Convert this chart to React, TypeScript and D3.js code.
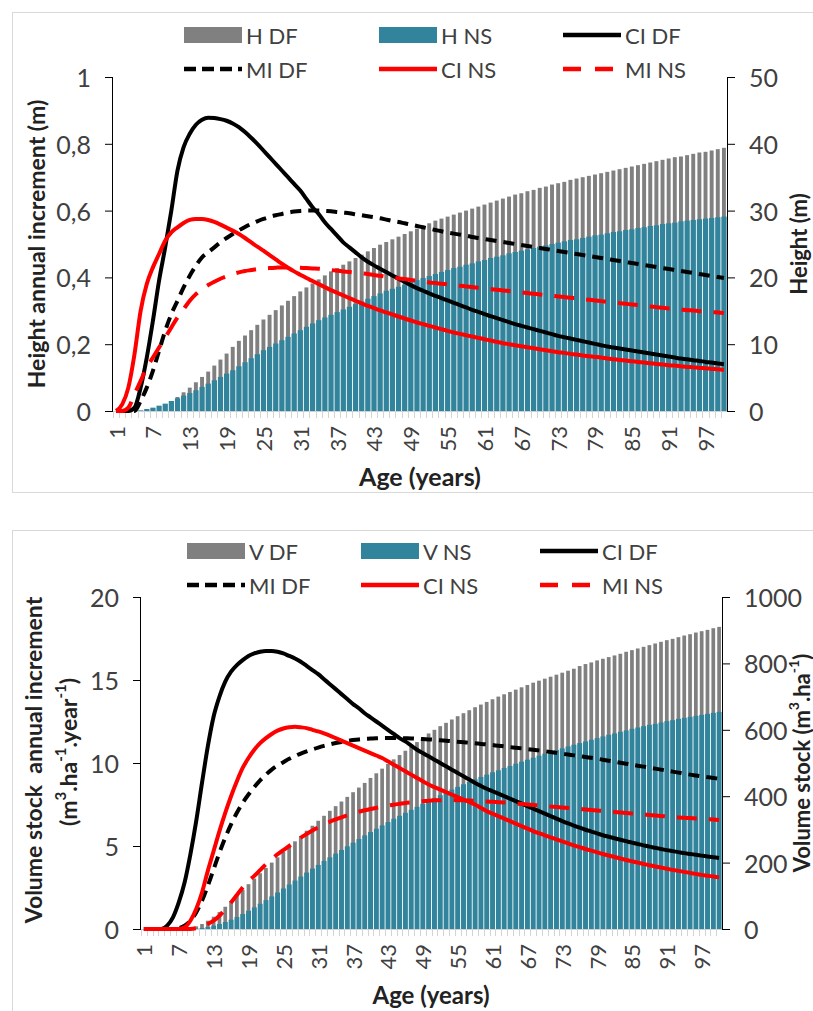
import React from "react";
import * as d3 from "d3";

// ages 1..100 (categories)
const ages: number[] = Array.from({ length: 100 }, (_, i) => i + 1);
const tickAges = [1, 7, 13, 19, 25, 31, 37, 43, 49, 55, 61, 67, 73, 79, 85, 91, 97];

// ---- top chart: height ----
const hDF = [0,0,0,0,0,0.1,0.3,0.6,1.0,1.5,
  2.1,2.8,3.5,4.3,5.1,5.9,6.8,7.7,8.6,9.6,
  10.5,11.3,12.1,12.9,13.7,14.4,15.1,15.8,16.5,17.2,
  17.9,18.5,19.1,19.7,20.3,20.9,21.4,21.9,22.4,22.9,
  23.4,23.9,24.4,24.9,25.3,25.7,26.1,26.5,26.9,27.3,
  27.7,28.1,28.5,28.8,29.1,29.4,29.7,30.0,30.3,30.6,
  30.9,31.2,31.5,31.8,32.1,32.4,32.6,32.9,33.1,33.4,
  33.6,33.9,34.1,34.3,34.6,34.8,35.0,35.2,35.4,35.6,
  35.8,36.0,36.2,36.4,36.6,36.8,37.0,37.2,37.4,37.6,
  37.8,38.0,38.1,38.3,38.5,38.7,38.8,39.0,39.2,39.4];
const hNS = [0,0,0,0,0.1,0.3,0.5,0.8,1.1,1.5,
  1.9,2.3,2.7,3.1,3.6,4.1,4.6,5.1,5.6,6.1,
  6.7,7.3,7.9,8.5,9.1,9.6,10.1,10.6,11.1,11.6,
  12.1,12.6,13.1,13.6,14.0,14.4,14.8,15.2,15.6,16.0,
  16.4,16.8,17.2,17.6,18.0,18.3,18.6,18.9,19.3,19.6,
  19.9,20.2,20.5,20.8,21.1,21.4,21.6,21.9,22.1,22.4,
  22.6,22.9,23.1,23.3,23.6,23.8,24.0,24.2,24.4,24.6,
  24.8,25.0,25.2,25.4,25.6,25.7,25.9,26.1,26.3,26.4,
  26.6,26.8,26.9,27.1,27.2,27.4,27.5,27.7,27.8,28.0,
  28.1,28.2,28.4,28.5,28.6,28.7,28.8,28.9,29.0,29.1];
const hCiDF = [0,0,0,0.01,0.07,0.16,0.27,0.39,0.49,0.6,
  0.72,0.79,0.83,0.857,0.872,0.878,0.877,0.874,0.869,0.861,
  0.85,0.835,0.818,0.8,0.78,0.76,0.74,0.72,0.7,0.68,
  0.66,0.635,0.61,0.59,0.565,0.545,0.525,0.505,0.49,0.475,
  0.46,0.447,0.436,0.426,0.416,0.406,0.396,0.386,0.377,0.368,
  0.36,0.352,0.345,0.338,0.331,0.324,0.317,0.31,0.303,0.297,
  0.29,0.284,0.278,0.272,0.266,0.26,0.255,0.25,0.245,0.24,
  0.235,0.23,0.225,0.221,0.217,0.213,0.209,0.205,0.201,0.197,
  0.193,0.19,0.187,0.184,0.181,0.178,0.175,0.172,0.169,0.166,
  0.163,0.16,0.157,0.155,0.152,0.15,0.147,0.145,0.142,0.14];
const hMiDF = [0,0,0,0,0.03,0.07,0.12,0.18,0.24,0.29,
  0.33,0.37,0.405,0.435,0.46,0.475,0.49,0.505,0.518,0.53,
  0.541,0.551,0.56,0.568,0.575,0.581,0.586,0.59,0.594,0.597,
  0.599,0.6,0.6,0.6,0.599,0.598,0.596,0.594,0.592,0.589,
  0.586,0.583,0.58,0.577,0.573,0.569,0.566,0.562,0.558,0.554,
  0.55,0.546,0.542,0.538,0.534,0.531,0.528,0.525,0.521,0.518,
  0.515,0.512,0.509,0.506,0.503,0.5,0.497,0.494,0.491,0.488,
  0.485,0.482,0.479,0.476,0.473,0.47,0.467,0.464,0.461,0.458,
  0.455,0.452,0.449,0.446,0.443,0.44,0.437,0.434,0.431,0.428,
  0.425,0.422,0.419,0.416,0.413,0.41,0.407,0.404,0.401,0.398];
const hCiNS = [0,0.02,0.07,0.17,0.3,0.38,0.43,0.47,0.51,0.535,
  0.55,0.563,0.572,0.575,0.575,0.572,0.566,0.558,0.549,0.54,
  0.53,0.518,0.505,0.492,0.48,0.467,0.454,0.441,0.429,0.418,
  0.408,0.398,0.389,0.38,0.371,0.362,0.354,0.346,0.338,0.33,
  0.322,0.315,0.308,0.301,0.295,0.289,0.283,0.277,0.271,0.265,
  0.26,0.255,0.25,0.245,0.24,0.235,0.231,0.227,0.223,0.219,
  0.215,0.211,0.207,0.203,0.2,0.197,0.194,0.191,0.188,0.185,
  0.182,0.179,0.176,0.174,0.171,0.169,0.166,0.164,0.162,0.16,
  0.157,0.155,0.153,0.151,0.149,0.147,0.145,0.143,0.141,0.139,
  0.137,0.136,0.134,0.132,0.131,0.129,0.128,0.126,0.125,0.123];
const hMiNS = [0,0,0.01,0.05,0.09,0.13,0.16,0.19,0.22,0.25,
  0.28,0.305,0.33,0.35,0.365,0.377,0.387,0.396,0.403,0.41,
  0.415,0.419,0.422,0.425,0.427,0.428,0.429,0.43,0.43,0.43,
  0.429,0.428,0.427,0.426,0.424,0.422,0.42,0.418,0.416,0.414,
  0.412,0.41,0.407,0.405,0.402,0.4,0.397,0.395,0.392,0.39,
  0.388,0.385,0.383,0.381,0.379,0.377,0.375,0.373,0.371,0.369,
  0.367,0.365,0.363,0.361,0.359,0.357,0.355,0.353,0.351,0.349,
  0.347,0.345,0.343,0.341,0.339,0.337,0.335,0.333,0.331,0.329,
  0.327,0.325,0.323,0.321,0.319,0.317,0.315,0.313,0.311,0.309,
  0.307,0.306,0.304,0.302,0.301,0.299,0.298,0.296,0.295,0.293];

// ---- bottom chart: volume ----
const vDF = [0,0,0,0,0,0,0,0,3,8,
  15,25,37,51,67,84,101,118,135,152,
  168,184,200,216,232,248,264,280,296,311,
  326,341,356,370,384,398,412,426,440,455,
  469,483,497,511,524,537,550,563,576,589,
  600,611,621,631,641,650,659,668,676,684,
  692,700,707,714,721,728,735,742,748,754,
  760,766,772,778,784,792,798,803,809,814,
  819,824,829,835,840,845,850,855,860,865,
  870,874,879,884,888,893,897,901,906,910];
const vNS = [0,0,0,0,0,0,0,0,0,1,
  3,6,10,15,21,28,36,45,55,65,
  76,87,98,110,122,134,146,158,170,182,
  193,205,216,227,238,249,260,271,282,292,
  302,312,322,332,341,350,359,368,377,385,
  394,403,412,420,428,436,443,451,458,465,
  472,478,485,491,498,504,510,516,522,528,
  533,539,544,550,555,560,565,570,575,580,
  585,589,594,598,603,607,611,615,618,622,
  626,629,633,636,639,642,645,648,651,654];
const vCiDF = [0,0,0,0,0.2,0.7,1.6,2.8,4.5,6.5,
  8.8,11.0,12.8,14.0,14.9,15.5,15.9,16.2,16.45,16.6,
  16.7,16.75,16.75,16.7,16.6,16.45,16.3,16.1,15.85,15.6,
  15.35,15.05,14.75,14.45,14.15,13.85,13.55,13.3,13.0,12.75,
  12.5,12.25,12.0,11.75,11.5,11.3,11.05,10.8,10.6,10.4,
  10.2,10.0,9.8,9.6,9.4,9.2,9.0,8.8,8.62,8.45,
  8.3,8.15,8.0,7.85,7.7,7.55,7.4,7.25,7.1,6.95,
  6.8,6.65,6.5,6.36,6.23,6.1,5.98,5.87,5.76,5.65,
  5.56,5.47,5.38,5.29,5.2,5.12,5.04,4.96,4.89,4.82,
  4.75,4.69,4.63,4.57,4.52,4.47,4.42,4.37,4.32,4.28];
const vMiDF = [0,0,0,0,0,0,0.05,0.2,0.5,1.0,
  1.7,2.6,3.6,4.6,5.5,6.3,7.0,7.6,8.1,8.55,
  8.95,9.3,9.6,9.85,10.05,10.25,10.42,10.57,10.7,10.82,
  10.93,11.03,11.12,11.2,11.27,11.33,11.38,11.42,11.45,11.47,
  11.49,11.5,11.5,11.5,11.5,11.49,11.48,11.46,11.44,11.42,
  11.4,11.37,11.34,11.31,11.28,11.25,11.22,11.19,11.15,11.12,
  11.08,11.04,11.0,10.96,10.92,10.88,10.84,10.8,10.76,10.71,
  10.66,10.61,10.56,10.51,10.46,10.41,10.36,10.31,10.26,10.2,
  10.14,10.08,10.02,9.96,9.9,9.84,9.78,9.72,9.66,9.6,
  9.54,9.48,9.42,9.36,9.3,9.25,9.2,9.15,9.1,9.05];
const vCiNS = [0,0,0,0,0,0,0,0.1,0.5,1.2,
  2.2,3.5,4.7,5.9,7.0,8.0,8.9,9.7,10.3,10.8,
  11.2,11.5,11.75,11.95,12.08,12.15,12.18,12.15,12.1,12.0,
  11.9,11.78,11.65,11.5,11.35,11.2,11.05,10.9,10.75,10.6,
  10.45,10.3,10.1,9.9,9.7,9.5,9.3,9.1,8.9,8.7,
  8.55,8.4,8.25,8.1,7.95,7.8,7.65,7.5,7.3,7.1,
  6.95,6.8,6.65,6.5,6.35,6.2,6.05,5.9,5.77,5.64,
  5.52,5.4,5.28,5.16,5.04,4.93,4.82,4.72,4.62,4.52,
  4.43,4.34,4.25,4.16,4.08,4.0,3.92,3.84,3.77,3.7,
  3.63,3.56,3.5,3.44,3.38,3.32,3.26,3.21,3.16,3.11];
const vMiNS = [0,0,0,0,0,0,0,0,0,0.05,
  0.15,0.3,0.5,0.8,1.2,1.6,2.05,2.5,2.9,3.2,
  3.55,3.9,4.2,4.5,4.75,5.0,5.25,5.5,5.72,5.93,
  6.12,6.3,6.46,6.6,6.73,6.85,6.96,7.06,7.15,7.23,
  7.3,7.37,7.43,7.49,7.54,7.59,7.63,7.67,7.7,7.73,
  7.75,7.76,7.77,7.77,7.76,7.75,7.74,7.72,7.7,7.68,
  7.66,7.64,7.62,7.59,7.56,7.53,7.5,7.47,7.44,7.41,
  7.38,7.35,7.32,7.29,7.26,7.23,7.2,7.17,7.14,7.11,
  7.08,7.05,7.02,6.99,6.96,6.93,6.9,6.87,6.84,6.81,
  6.78,6.75,6.72,6.7,6.68,6.66,6.64,6.62,6.6,6.56];

const hLeftTicks = [0, 0.2, 0.4, 0.6, 0.8, 1];
const hRightTicks = [0, 10, 20, 30, 40, 50];
const vLeftTicks = [0, 5, 10, 15, 20];
const vRightTicks = [0, 200, 400, 600, 800, 1000];

const GREY = "#808080";
const TEAL = "#31849b";
const RED = "#ff0000";
const FONT = "Lato, 'Open Sans', sans-serif";
const TXT = "#404040";

function Panel(props: any) {
  const { x0, x1, yT, yB, leftMax, rightMax, leftTicks, rightTicks, leftFmt, bars, lines, legend, legendX, legendY } = props;
  const x = d3.scaleBand<number>().domain(ages).range([x0, x1]);
  const bw = x.bandwidth();
  const yL = d3.scaleLinear().domain([0, leftMax]).range([yB, yT]);
  const yR = d3.scaleLinear().domain([0, rightMax]).range([yB, yT]);
  const cx = (a: number) => (x(a) as number) + bw / 2;
  const lineGen = d3.line<number>().x((_, i) => cx(ages[i])).y((d) => yL(d)).curve(d3.curveMonotoneX);

  return (
    <g>
      {/* grey bars */}
      {bars[0].map((v: number, i: number) => (
        <rect key={"g" + i} x={cx(ages[i]) - bw * 0.32} width={bw * 0.64} y={yR(v)} height={yB - yR(v)} fill={GREY} />
      ))}
      {bars[1].map((v: number, i: number) => (
        <rect key={"t" + i} x={(x(ages[i]) as number) + 0.5} width={bw - 0.9} y={yR(v)} height={yB - yR(v)} fill={TEAL} />
      ))}
      {/* x axis */}
      <line x1={x0} x2={x1} y1={yB + 0.5} y2={yB + 0.5} stroke="#c8d3d8" strokeWidth={1.2} />
      {ages.map((a) => (
        <line key={"m" + a} x1={Math.round(x(a) as number) + 0.5} x2={Math.round(x(a) as number) + 0.5} y1={yB} y2={yB + 7} stroke="#d4d4d4" />
      ))}
      {tickAges.map((a) => (
        <text key={"xl" + a} transform={`translate(${cx(a)},${yB + 15}) rotate(-90)`} textAnchor="end" dominantBaseline="central" fontSize={22} fontFamily={FONT} fill={TXT}>{a}</text>
      ))}
      {/* lines */}
      {lines.map((l: any, i: number) => (
        <path key={"l" + i} d={lineGen(l.values) as string} fill="none" stroke={l.color} strokeWidth={4} strokeDasharray={l.dash} />
      ))}
      {/* left axis */}
      <line x1={x0 - 0.5} x2={x0 - 0.5} y1={yT} y2={yB} stroke="#000" />
      {leftTicks.map((t: number) => (
        <g key={"lt" + t}>
          <line x1={x0 - 8} x2={x0} y1={yL(t) + 0.5} y2={yL(t) + 0.5} stroke="#000" />
          <text x={x0 - 22} y={yL(t)} textAnchor="end" dominantBaseline="central" fontSize={25} fontFamily={FONT} fill={TXT}>{leftFmt(t)}</text>
        </g>
      ))}
      {/* right axis */}
      <line x1={x1 + 0.5} x2={x1 + 0.5} y1={yT} y2={yB} stroke="#000" />
      {rightTicks.map((t: number) => (
        <g key={"rt" + t}>
          <line x1={x1} x2={x1 + 8} y1={yR(t) + 0.5} y2={yR(t) + 0.5} stroke="#000" />
          <text x={x1 + 22} y={yR(t)} textAnchor="start" dominantBaseline="central" fontSize={25} fontFamily={FONT} fill={TXT}>{t}</text>
        </g>
      ))}
      {/* legend */}
      {legend.map((it: any, i: number) => {
        const lx = legendX[i % 3];
        const ly = legendY[Math.floor(i / 3)];
        return (
          <g key={"lg" + i}>
            {it.type === "bar" ? (
              <rect x={lx} y={ly - 8} width={58} height={16} fill={it.color} />
            ) : (
              <line x1={lx} x2={lx + 58} y1={ly} y2={ly} stroke={it.color} strokeWidth={4.5} strokeDasharray={it.dash} />
            )}
            <text x={lx + 62} y={ly} dominantBaseline="central" fontSize={22} fontFamily={FONT} fill={TXT}>{it.label}</text>
          </g>
        );
      })}
    </g>
  );
}

const commaFmt = (t: number) => (t === 0 || t === 1 ? String(t) : String(t).replace(".", ","));

export default function App() {
  const topLines = [
    { values: hCiDF, color: "#000", dash: undefined },
    { values: hMiDF, color: "#000", dash: "11 7" },
    { values: hCiNS, color: RED, dash: undefined },
    { values: hMiNS, color: RED, dash: "20 12" },
  ];
  const botLines = [
    { values: vCiDF, color: "#000", dash: undefined },
    { values: vMiDF, color: "#000", dash: "11 7" },
    { values: vCiNS, color: RED, dash: undefined },
    { values: vMiNS, color: RED, dash: "20 12" },
  ];
  const legendItems = (a: string, b: string) => [
    { type: "bar", color: GREY, label: a },
    { type: "bar", color: TEAL, label: b },
    { type: "line", color: "#000", label: "CI DF" },
    { type: "line", color: "#000", dash: "12 6", label: "MI DF" },
    { type: "line", color: RED, label: "CI NS" },
    { type: "line", color: RED, dash: "18 14", label: "MI NS" },
  ];
  const boldTitle = { fontSize: 23, fontFamily: FONT, fontWeight: 700, fill: "#222", style: { whiteSpace: "pre" } } as any;

  return (
    <svg width={813} height={1011} style={{ position: "absolute", left: 0, top: 0, background: "#fff" }}>
      <rect x={12.5} y={12.5} width={820} height={480} fill="#fff" stroke="#d9d9d9" />
      <rect x={12.5} y={530.5} width={820} height={500} fill="#fff" stroke="#d9d9d9" />

      <Panel x0={113} x1={727} yT={77} yB={411} leftMax={1} rightMax={50}
        leftTicks={hLeftTicks} rightTicks={hRightTicks} leftFmt={commaFmt}
        bars={[hDF, hNS]} lines={topLines} legend={legendItems("H DF", "H NS")}
        legendX={[184, 379, 563]} legendY={[35, 69]} />
      <text transform="translate(36,244) rotate(-90)" textAnchor="middle" dominantBaseline="central" {...boldTitle}>Height annual increment (m)</text>
      <text transform="translate(798,244) rotate(-90)" textAnchor="middle" dominantBaseline="central" {...boldTitle} fontSize={22}>Height (m)</text>
      <text x={420} y={476} textAnchor="middle" dominantBaseline="central" {...boldTitle} fontSize={25}>Age (years)</text>

      <Panel x0={141} x1={722} yT={597} yB={929} leftMax={20} rightMax={1000}
        leftTicks={vLeftTicks} rightTicks={vRightTicks} leftFmt={(t: number) => String(t)}
        bars={[vDF, vNS]} lines={botLines} legend={legendItems("V DF", "V NS")}
        legendX={[187, 361, 540]} legendY={[551, 585]} />
      <text transform="translate(33,760) rotate(-90)" textAnchor="middle" dominantBaseline="central" {...boldTitle}>Volume stock  annual increment</text>
      <text transform="translate(68,752) rotate(-90)" textAnchor="middle" dominantBaseline="central" {...boldTitle}>
        (m<tspan dy={-8} fontSize={15}>3</tspan><tspan dy={8}>.ha</tspan><tspan dy={-8} fontSize={15}>-1</tspan><tspan dy={8}>.year</tspan><tspan dy={-8} fontSize={15}>-1</tspan><tspan dy={8}>)</tspan>
      </text>
      <text transform="translate(801,763) rotate(-90)" textAnchor="middle" dominantBaseline="central" {...boldTitle} fontSize={22}>
        Volume stock (m<tspan dy={-8} fontSize={14}>3</tspan><tspan dy={8}>.ha</tspan><tspan dy={-8} fontSize={14}>-1</tspan><tspan dy={8}>)</tspan>
      </text>
      <text x={431} y={994} textAnchor="middle" dominantBaseline="central" {...boldTitle} fontSize={24}>Age (years)</text>
    </svg>
  );
}
